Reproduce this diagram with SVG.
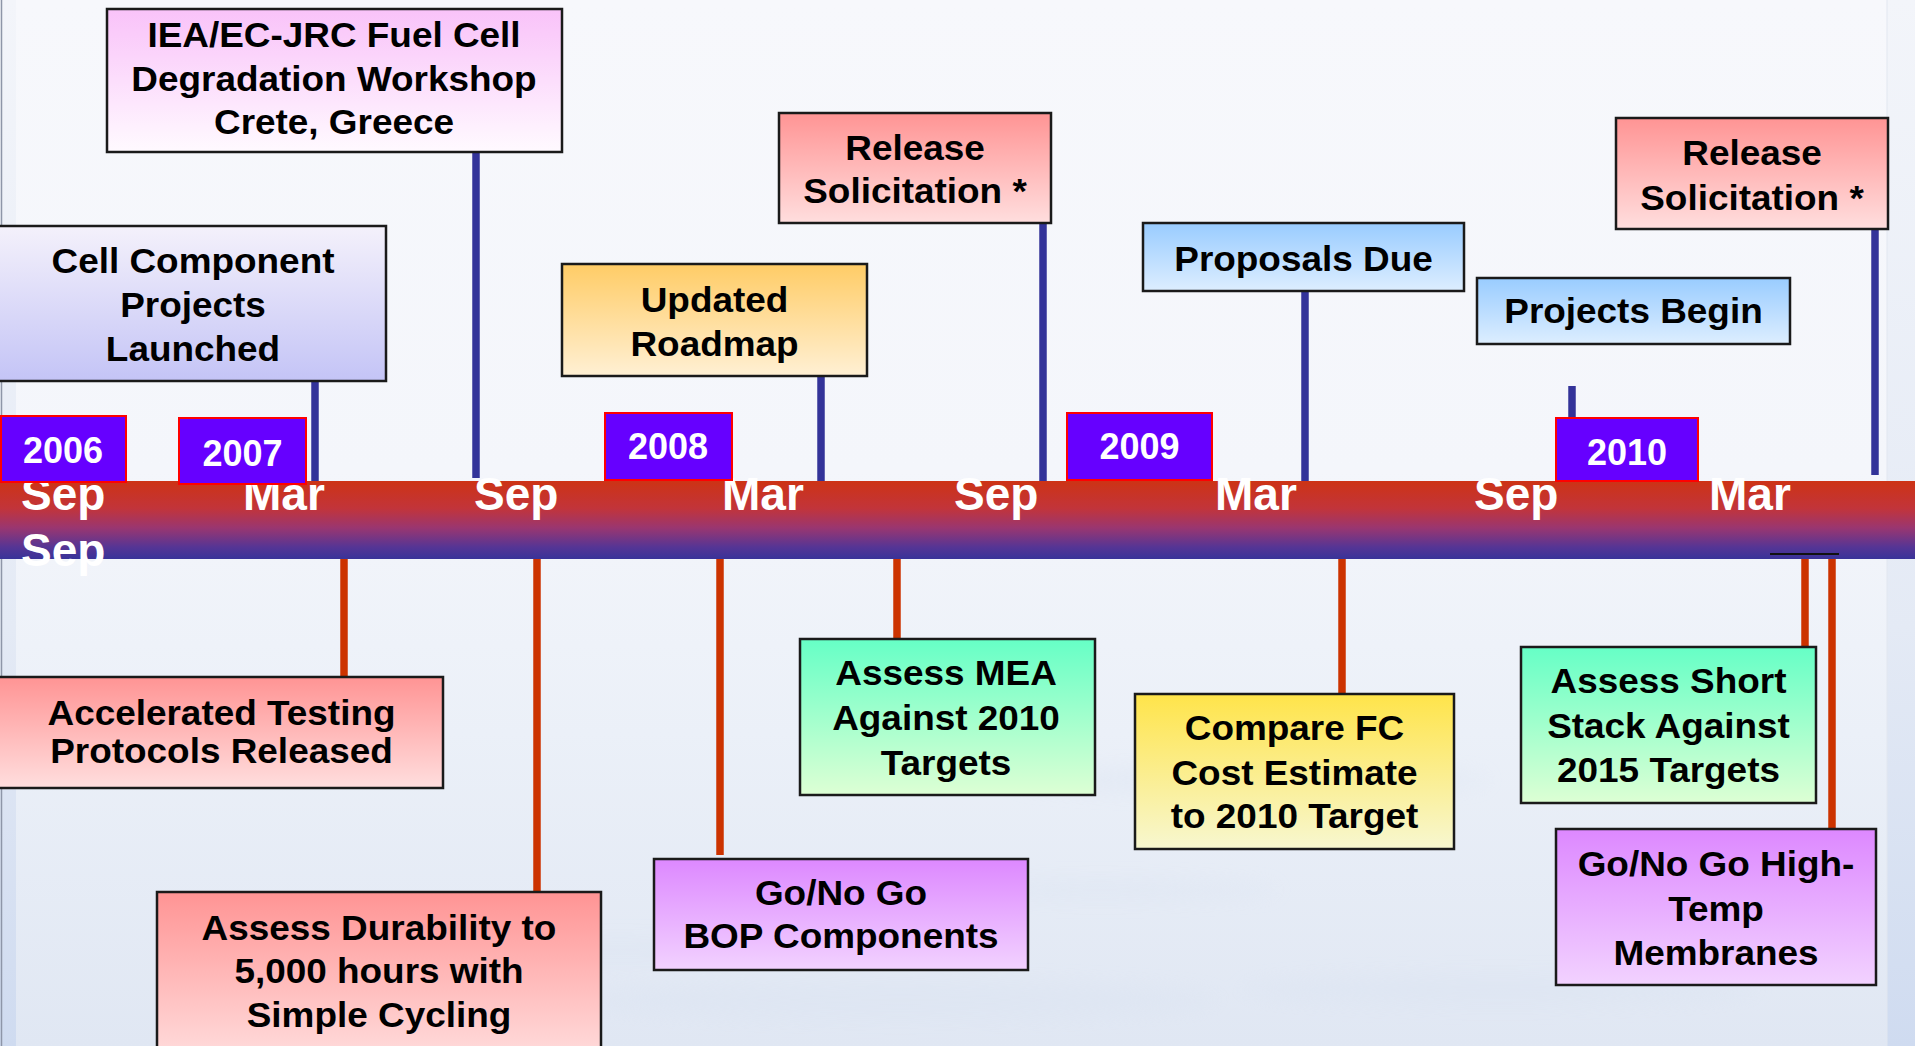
<svg xmlns="http://www.w3.org/2000/svg" width="1915" height="1046" viewBox="0 0 1915 1046">
<defs>
<linearGradient id="bg" x1="0" y1="0" x2="0" y2="1">
<stop offset="0" stop-color="#f7f8fc"/><stop offset="0.45" stop-color="#f4f6fb"/><stop offset="0.7" stop-color="#ebf0f8"/><stop offset="1" stop-color="#e0e7f3"/>
</linearGradient>
<linearGradient id="band" x1="0" y1="0" x2="0" y2="1">
<stop offset="0" stop-color="#cd3315"/><stop offset="0.35" stop-color="#c2343a"/><stop offset="0.6" stop-color="#9a3670"/><stop offset="0.85" stop-color="#553595"/><stop offset="1" stop-color="#383399"/>
</linearGradient>
<linearGradient id="gPinkW" x1="0" y1="0" x2="0" y2="1"><stop offset="0" stop-color="#f9c2f9"/><stop offset="1" stop-color="#fffaff"/></linearGradient>
<linearGradient id="gLav" x1="0" y1="0" x2="0" y2="1"><stop offset="0" stop-color="#f4f1fb"/><stop offset="1" stop-color="#c4c4f6"/></linearGradient>
<linearGradient id="gOrange" x1="0" y1="0" x2="0" y2="1"><stop offset="0" stop-color="#ffcc66"/><stop offset="1" stop-color="#fff0d4"/></linearGradient>
<linearGradient id="gRed" x1="0" y1="0" x2="0" y2="1"><stop offset="0" stop-color="#ff9494"/><stop offset="1" stop-color="#ffdede"/></linearGradient>
<linearGradient id="gBlue" x1="0" y1="0" x2="0" y2="1"><stop offset="0" stop-color="#99ccff"/><stop offset="1" stop-color="#ddeeff"/></linearGradient>
<linearGradient id="gMint" x1="0" y1="0" x2="0" y2="1"><stop offset="0" stop-color="#66ffc6"/><stop offset="1" stop-color="#ddffd4"/></linearGradient>
<linearGradient id="gYellow" x1="0" y1="0" x2="0" y2="1"><stop offset="0" stop-color="#ffe44a"/><stop offset="1" stop-color="#f7f7d0"/></linearGradient>
<linearGradient id="gPurple" x1="0" y1="0" x2="0" y2="1"><stop offset="0" stop-color="#dd88ff"/><stop offset="1" stop-color="#f2d2ff"/></linearGradient>
<linearGradient id="gEdge" x1="0" y1="0" x2="0" y2="1"><stop offset="0" stop-color="#f3f5fa"/><stop offset="0.6" stop-color="#e4eaf5"/><stop offset="1" stop-color="#cfdbf0"/></linearGradient>
<filter id="blur" x="-20%" y="-50%" width="140%" height="200%"><feGaussianBlur stdDeviation="10"/></filter>
<style>
.box{stroke:#1a1a1a;stroke-width:2.5}
.yr{fill:#6600ff;stroke:#ff0000;stroke-width:2}
.yt{font-family:"Liberation Sans",Arial,sans-serif;font-weight:bold;font-size:36px;fill:#ffffff;text-anchor:middle}
.mo{font-family:"Liberation Sans",Arial,sans-serif;font-weight:bold;font-size:46px;fill:#ffffff}
.bt{font-family:"Liberation Sans",Arial,sans-serif;font-weight:bold;font-size:35.5px;fill:#000000;text-anchor:middle}
.cb{stroke:#333399;stroke-width:7.5;fill:none}
.cr{stroke:#cc3300;stroke-width:7.5;fill:none}
</style>
</defs>

<g id="background">
<rect x="0" y="0" width="1915" height="1046" fill="url(#bg)"/>
<g filter="url(#blur)" fill="#d9e2f1" opacity="0.35">
<ellipse cx="900" cy="1000" rx="320" ry="20"/>
<ellipse cx="1250" cy="780" rx="240" ry="14"/>
<ellipse cx="620" cy="950" rx="200" ry="12"/>
<ellipse cx="1500" cy="990" rx="260" ry="16"/>
<ellipse cx="1100" cy="890" rx="180" ry="10"/>
</g>
<rect x="0" y="0" width="16" height="1046" fill="url(#gEdge)"/>
<line x1="1.5" y1="0" x2="1.5" y2="1046" stroke="#8e96a8" stroke-width="1.5"/>
<rect x="1887" y="0" width="28" height="1046" fill="url(#gEdge)"/>
<line x1="1887" y1="0" x2="1887" y2="1046" stroke="#e2e7f0" stroke-width="1"/>
</g>

<g id="connectors">
<line class="cb" x1="315" y1="381" x2="315" y2="481"/>
<line class="cb" x1="476" y1="152" x2="476" y2="478"/>
<line class="cb" x1="821" y1="376" x2="821" y2="481"/>
<line class="cb" x1="1043" y1="223" x2="1043" y2="481"/>
<line class="cb" x1="1305" y1="291" x2="1305" y2="481"/>
<line class="cb" x1="1572" y1="386" x2="1572" y2="418"/>
<line class="cb" x1="1875" y1="229" x2="1875" y2="475"/>
<line class="cr" x1="344" y1="559" x2="344" y2="677"/>
<line class="cr" x1="537" y1="559" x2="537" y2="892"/>
<line class="cr" x1="720" y1="559" x2="720" y2="855"/>
<line class="cr" x1="897" y1="559" x2="897" y2="639"/>
<line class="cr" x1="1342" y1="559" x2="1342" y2="694"/>
<line class="cr" x1="1805" y1="553" x2="1805" y2="647"/>
<line class="cr" x1="1832" y1="558" x2="1832" y2="829"/>
</g>

<g id="timeline">
<rect x="0" y="481" width="1915" height="78" fill="url(#band)"/>
<line x1="1770" y1="554" x2="1839" y2="554" stroke="#111111" stroke-width="2"/>
<text class="mo" x="21" y="510">Sep</text>
<text class="mo" x="21" y="566">Sep</text>
<text class="mo" x="243" y="510">Mar</text>
<text class="mo" x="474" y="510">Sep</text>
<text class="mo" x="722" y="510">Mar</text>
<text class="mo" x="954" y="510">Sep</text>
<text class="mo" x="1215" y="510">Mar</text>
<text class="mo" x="1474" y="510">Sep</text>
<text class="mo" x="1709" y="510">Mar</text>
</g>

<g id="year-2006"><rect class="yr" x="1" y="416" width="125" height="66"/><text class="yt" x="63" y="463">2006</text></g>
<g id="year-2007"><rect class="yr" x="179" y="418" width="127" height="66"/><text class="yt" x="242.5" y="466">2007</text></g>
<g id="year-2008"><rect class="yr" x="605" y="413" width="127" height="67"/><text class="yt" x="668" y="459">2008</text></g>
<g id="year-2009"><rect class="yr" x="1067" y="413" width="145" height="67"/><text class="yt" x="1139.5" y="459">2009</text></g>
<g id="year-2010"><rect class="yr" x="1556" y="418" width="142" height="63"/><text class="yt" x="1627" y="465">2010</text></g>

<g id="node-iea">
<rect class="box" x="107" y="9" width="455" height="143" fill="url(#gPinkW)"/>
<text class="bt" transform="translate(334,0) scale(1.04,1)"><tspan x="0" y="47">IEA/EC-JRC Fuel Cell</tspan><tspan x="0" y="91">Degradation Workshop</tspan><tspan x="0" y="134">Crete, Greece</tspan></text>
</g>
<g id="node-cell-component">
<rect class="box" x="-2" y="226" width="388" height="155" fill="url(#gLav)"/>
<text class="bt" transform="translate(193,0) scale(1.04,1)"><tspan x="0" y="273">Cell Component</tspan><tspan x="0" y="317">Projects</tspan><tspan x="0" y="361">Launched</tspan></text>
</g>
<g id="node-roadmap">
<rect class="box" x="562" y="264" width="305" height="112" fill="url(#gOrange)"/>
<text class="bt" transform="translate(714.5,0) scale(1.04,1)"><tspan x="0" y="312">Updated</tspan><tspan x="0" y="356">Roadmap</tspan></text>
</g>
<g id="node-release-1">
<rect class="box" x="779" y="113" width="272" height="110" fill="url(#gRed)"/>
<text class="bt" transform="translate(915,0) scale(1.04,1)"><tspan x="0" y="160">Release</tspan><tspan x="0" y="203">Solicitation *</tspan></text>
</g>
<g id="node-proposals">
<rect class="box" x="1143" y="223" width="321" height="68" fill="url(#gBlue)"/>
<text class="bt" transform="translate(1303.5,0) scale(1.04,1)"><tspan x="0" y="271">Proposals Due</tspan></text>
</g>
<g id="node-projects-begin">
<rect class="box" x="1477" y="278" width="313" height="66" fill="url(#gBlue)"/>
<text class="bt" transform="translate(1633.5,0) scale(1.04,1)"><tspan x="0" y="323">Projects Begin</tspan></text>
</g>
<g id="node-release-2">
<rect class="box" x="1616" y="118" width="272" height="111" fill="url(#gRed)"/>
<text class="bt" transform="translate(1752,0) scale(1.04,1)"><tspan x="0" y="165">Release</tspan><tspan x="0" y="210">Solicitation *</tspan></text>
</g>

<g id="node-accelerated">
<rect class="box" x="-2" y="677" width="445" height="111" fill="url(#gRed)"/>
<text class="bt" transform="translate(221.5,0) scale(1.04,1)"><tspan x="0" y="725">Accelerated Testing</tspan><tspan x="0" y="763">Protocols Released</tspan></text>
</g>
<g id="node-durability">
<rect class="box" x="157" y="892" width="444" height="170" fill="url(#gRed)"/>
<text class="bt" transform="translate(379,0) scale(1.04,1)"><tspan x="0" y="940">Assess Durability to</tspan><tspan x="0" y="983">5,000 hours with</tspan><tspan x="0" y="1027">Simple Cycling</tspan></text>
</g>
<g id="node-bop">
<rect class="box" x="654" y="859" width="374" height="111" fill="url(#gPurple)"/>
<text class="bt" transform="translate(841,0) scale(1.04,1)"><tspan x="0" y="905">Go/No Go</tspan><tspan x="0" y="948">BOP Components</tspan></text>
</g>
<g id="node-mea">
<rect class="box" x="800" y="639" width="295" height="156" fill="url(#gMint)"/>
<text class="bt" transform="translate(946,0) scale(1.04,1)"><tspan x="0" y="685">Assess MEA</tspan><tspan x="0" y="730">Against 2010</tspan><tspan x="0" y="775">Targets</tspan></text>
</g>
<g id="node-cost">
<rect class="box" x="1135" y="694" width="319" height="155" fill="url(#gYellow)"/>
<text class="bt" transform="translate(1294.5,0) scale(1.04,1)"><tspan x="0" y="740">Compare FC</tspan><tspan x="0" y="785">Cost Estimate</tspan><tspan x="0" y="828">to 2010 Target</tspan></text>
</g>
<g id="node-short-stack">
<rect class="box" x="1521" y="647" width="295" height="156" fill="url(#gMint)"/>
<text class="bt" transform="translate(1668.5,0) scale(1.04,1)"><tspan x="0" y="693">Assess Short</tspan><tspan x="0" y="738">Stack Against</tspan><tspan x="0" y="782">2015 Targets</tspan></text>
</g>
<g id="node-high-temp">
<rect class="box" x="1556" y="829" width="320" height="156" fill="url(#gPurple)"/>
<text class="bt" transform="translate(1716,0) scale(1.04,1)"><tspan x="0" y="876">Go/No Go High-</tspan><tspan x="0" y="921">Temp</tspan><tspan x="0" y="965">Membranes</tspan></text>
</g>
</svg>
